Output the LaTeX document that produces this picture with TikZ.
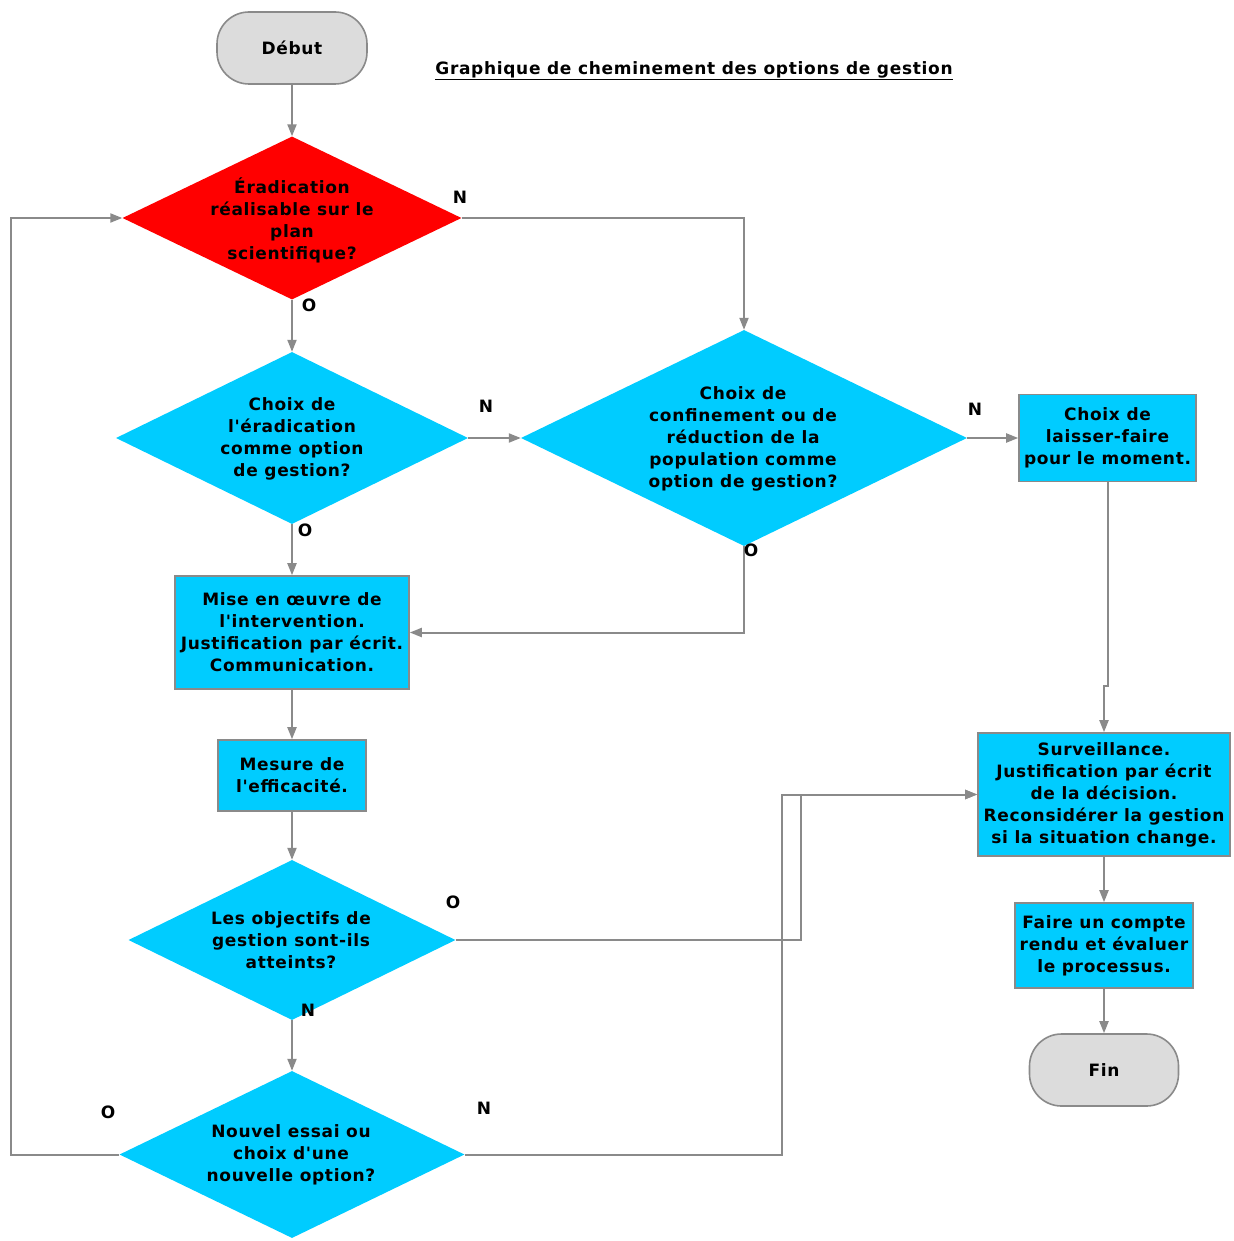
\documentclass[tikz,border=0pt]{standalone}
\usepackage{fontspec}
\usetikzlibrary{shapes.geometric,arrows.meta}
\newfontfamily\chartfont[LetterSpace=4]{DejaVu Sans}
\definecolor{cyanfill}{HTML}{00CCFF}
\definecolor{redfill}{HTML}{FF0000}
\definecolor{linegray}{HTML}{8A8A8A}
\definecolor{termgray}{HTML}{DCDCDC}
\tikzset{
  conn/.style={draw=linegray, line width=2pt, -{Triangle[length=12pt,width=9pt]}},
  decision/.style={diamond, draw=none, inner sep=0pt, fill=cyanfill},
  stepbox/.style={rectangle, draw=linegray, line width=1.6pt, inner sep=0pt, fill=cyanfill},
  terminal/.style={rectangle, rounded corners=32pt, draw=linegray, line width=1.6pt, fill=termgray, inner sep=0pt},
  txt/.style={font=\chartfont\bfseries\fontsize{17pt}{22pt}\selectfont, align=center, inner sep=0pt},
  yn/.style={font=\chartfont\bfseries\fontsize{17pt}{22pt}\selectfont, inner sep=0pt}
}
\begin{document}
\begin{tikzpicture}[x=1pt,y=-1pt]
\useasboundingbox[fill=white] (0,0) rectangle (1233,1241);

% title
\node[txt] (title) at (694,71) {\underline{Graphique de cheminement des options de gestion}};

% terminals
\node[terminal, minimum width=150pt, minimum height=72pt] (start) at (292,48) {};
\node[txt] at (start) {Début};
\node[terminal, minimum width=149pt, minimum height=72pt] (fin) at (1104,1070) {};
\node[txt] at (fin) {Fin};

% decisions
\node[decision, fill=redfill, minimum width=339pt, minimum height=163pt] (d1) at (292,218) {};
\node[txt] at (292,220) {Éradication\\réalisable sur le\\plan\\scientifique?};

\node[decision, minimum width=352pt, minimum height=172pt] (d2) at (292,438) {};
\node[txt] at (292,439) {Choix de\\l'éradication\\comme option\\de gestion?};

\node[decision, minimum width=446pt, minimum height=216pt] (d3) at (744,438) {};
\node[txt] at (743,439) {Choix de\\confinement ou de\\réduction de la\\population comme\\option de gestion?};

\node[decision, minimum width=327pt, minimum height=160pt] (d4) at (292,940) {};
\node[txt] at (291,940) {Les objectifs de\\gestion sont-ils\\atteints?};

\node[decision, minimum width=345pt, minimum height=167pt] (d5) at (292,1154.5) {};
\node[txt] at (291,1155) {Nouvel essai ou\\choix d'une\\nouvelle option?};

% process boxes
\node[stepbox, minimum width=234pt, minimum height=113pt] (b1) at (292,632.5) {};
\node[txt] at (b1) {Mise en œuvre de\\l'intervention.\\Justification par écrit.\\Communication.};

\node[stepbox, minimum width=177pt, minimum height=87pt] (b2) at (1107.5,438) {};
\node[txt] at (b2) {Choix de\\laisser-faire\\pour le moment.};

\node[stepbox, minimum width=148pt, minimum height=71pt] (b3) at (292,775.5) {};
\node[txt] at (b3) {Mesure de\\l'efficacité.};

\node[stepbox, minimum width=252pt, minimum height=123pt] (srv) at (1104,794.5) {};
\node[txt] at (srv) {Surveillance.\\Justification par écrit\\de la décision.\\Reconsidérer la gestion\\si la situation change.};

\node[stepbox, minimum width=178pt, minimum height=85pt] (b4) at (1104,945.5) {};
\node[txt] at (b4) {Faire un compte\\rendu et évaluer\\le processus.};

% bend points
\coordinate (loop) at (11,1154.5);
\coordinate (jogA) at (1107.5,686);
\coordinate (jogB) at (1104,686);
\coordinate (oBend) at (801,794.5);
\coordinate (nBend) at (782,794.5);

% connectors
\draw[conn] (start.south) -- (d1.north);
\draw[conn] (d1.south) -- (d2.north);
\draw[conn] (d1.east) -| (d3.north);
\draw[conn] (d2.east) -- (d3.west);
\draw[conn] (d2.south) -- (b1.north);
\draw[conn] (d3.east) -- (b2.west);
\draw[conn] (d3.south) |- (b1.east);
\draw[conn] (b1.south) -- (b3.north);
\draw[conn] (b3.south) -- (d4.north);
\draw[conn] (d4.south) -- (d5.north);
\draw[conn] (d4.east) -| (oBend) -- (srv.west);
\draw[conn] (d5.east) -| (nBend) -- (srv.west);
\draw[conn] (d5.west) -- (loop) |- (d1.west);
\draw[conn] (b2.south) -- (jogA) -- (jogB) -- (srv.north);
\draw[conn] (srv.south) -- (b4.north);
\draw[conn] (b4.south) -- (fin.north);

% branch labels
\node[yn] (n1) at (460,197) {N};
\node[yn] (o1) at (309,305) {O};
\node[yn] (n2) at (486,406) {N};
\node[yn] (o2) at (305,530) {O};
\node[yn] (n3) at (975,409) {N};
\node[yn] (o3) at (751,550) {O};
\node[yn] (o4) at (453,902) {O};
\node[yn] (n4) at (308,1010) {N};
\node[yn] (o5) at (108,1112) {O};
\node[yn] (n5) at (484,1108) {N};
\end{tikzpicture}
\end{document}
